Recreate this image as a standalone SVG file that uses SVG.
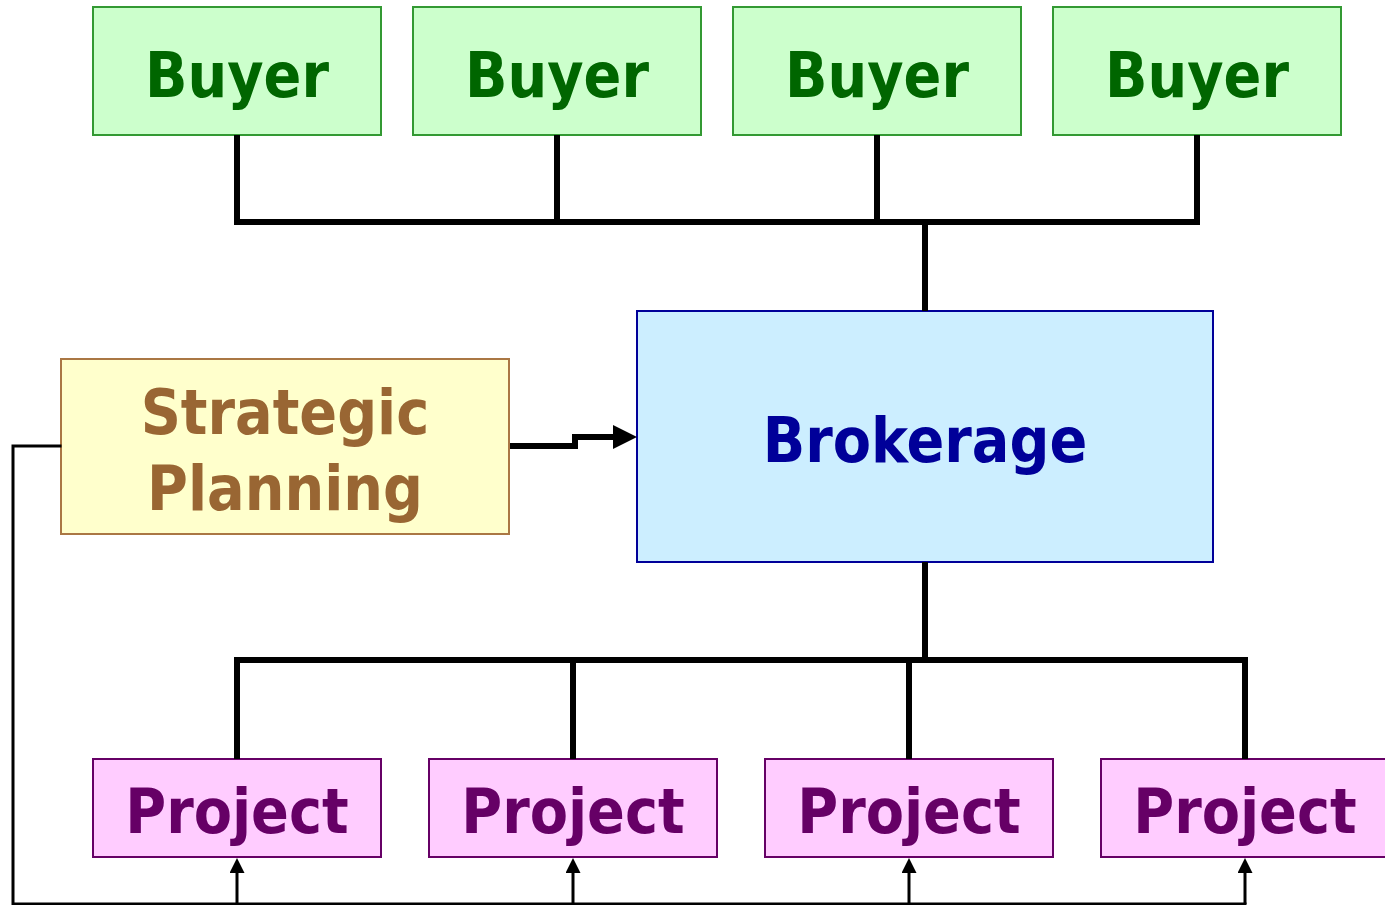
<svg xmlns="http://www.w3.org/2000/svg" width="1385" height="905" viewBox="0 0 1385 905">
<defs>
<style>
.t{font-family:"DejaVu Sans Condensed","DejaVu Sans","Liberation Sans",sans-serif;font-weight:bold;font-size:62px;text-anchor:middle}
.buyer rect{fill:#ccffcc;stroke:#339933;stroke-width:2}
.buyer text{fill:#006600}
.proj rect{fill:#ffccff;stroke:#660066;stroke-width:2}
.proj text{fill:#660066}
.thick{fill:none;stroke:#000;stroke-width:6;stroke-linecap:square;stroke-linejoin:miter}
.thin{fill:none;stroke:#000;stroke-width:3;stroke-linecap:square}
.arr{fill:none;stroke:#000;stroke-width:3;stroke-linecap:butt}
</style>
<marker id="ah" viewBox="0 0 10 10" refX="0" refY="5" markerWidth="4" markerHeight="4" orient="auto" markerUnits="strokeWidth"><path d="M0,0L10,5L0,10z" fill="#000"/></marker>
<marker id="ahs" viewBox="0 0 10 10" refX="0" refY="5" markerWidth="5" markerHeight="5" orient="auto" markerUnits="strokeWidth"><path d="M0,0L10,5L0,10z" fill="#000"/></marker>
</defs>
<g id="buyer1" class="buyer"><rect x="93" y="7" width="288" height="128"/><text class="t" x="237" y="97">Buyer</text></g>
<g id="buyer2" class="buyer"><rect x="413" y="7" width="288" height="128"/><text class="t" x="557" y="97">Buyer</text></g>
<g id="buyer3" class="buyer"><rect x="733" y="7" width="288" height="128"/><text class="t" x="877" y="97">Buyer</text></g>
<g id="buyer4" class="buyer"><rect x="1053" y="7" width="288" height="128"/><text class="t" x="1197" y="97">Buyer</text></g>
<g id="brokerage"><rect x="637" y="311" width="576" height="251" fill="#cceeff" stroke="#000099" stroke-width="2"/><text class="t" x="925" y="462" fill="#000099">Brokerage</text></g>
<g id="strategic"><rect x="61" y="359" width="448" height="175" fill="#ffffcc" stroke="#aa7744" stroke-width="2"/><text class="t" x="285" y="434" fill="#996633">Strategic</text><text class="t" x="285" y="510" fill="#996633">Planning</text></g>
<g id="project1" class="proj"><rect x="93" y="759" width="288" height="98"/><text class="t" x="237" y="833">Project</text></g>
<g id="project2" class="proj"><rect x="429" y="759" width="288" height="98"/><text class="t" x="573" y="833">Project</text></g>
<g id="project3" class="proj"><rect x="765" y="759" width="288" height="98"/><text class="t" x="909" y="833">Project</text></g>
<g id="project4" class="proj"><rect x="1101" y="759" width="288" height="98"/><text class="t" x="1245" y="833">Project</text></g>
<g id="connectors">
<path class="thick" d="M237,138V222H1197V138M557,138V222M877,138V222M925,222V308"/>
<path class="thick" d="M925,565V660M237,756V660H1245V756M573,660V756M909,660V756"/>
<path class="thick" d="M510,446H575V437H613" marker-end="url(#ah)" style="stroke-linecap:butt"/>
<path class="thin" d="M60,446H13V904H1245"/>
<path class="arr" d="M237,904V873" marker-end="url(#ahs)"/>
<path class="arr" d="M573,904V873" marker-end="url(#ahs)"/>
<path class="arr" d="M909,904V873" marker-end="url(#ahs)"/>
<path class="arr" d="M1245,904V873" marker-end="url(#ahs)"/>
</g>
</svg>
